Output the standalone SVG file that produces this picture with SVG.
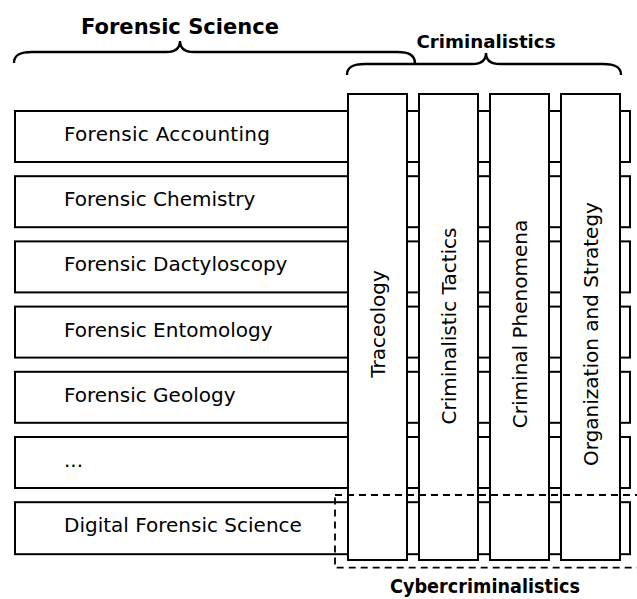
<svg xmlns="http://www.w3.org/2000/svg" width="637" height="599" viewBox="0 0 637 599">
<style>
.box{fill:#fff;stroke:#000;stroke-width:2}
.t{font-family:"DejaVu Sans",sans-serif;font-size:20px;fill:#000}
.b{font-family:"DejaVu Sans",sans-serif;font-weight:bold;fill:#000}
.brace{fill:none;stroke:#000;stroke-width:2.4}
.dash{fill:none;stroke:#000;stroke-width:1.8;stroke-dasharray:7 5}
</style>
<rect width="637" height="599" fill="#fff"/>
<g id="rows">
<g id="row-accounting"><rect class="box" x="15" y="111" width="615" height="51"/><text class="t" x="64" y="141" textLength="206" lengthAdjust="spacing">Forensic Accounting</text></g>
<g id="row-chemistry"><rect class="box" x="15" y="176.2" width="615" height="51"/><text class="t" x="64" y="206.2">Forensic Chemistry</text></g>
<g id="row-dactyloscopy"><rect class="box" x="15" y="241.4" width="615" height="51"/><text class="t" x="64" y="271.4">Forensic Dactyloscopy</text></g>
<g id="row-entomology"><rect class="box" x="15" y="306.6" width="615" height="51"/><text class="t" x="64" y="336.6">Forensic Entomology</text></g>
<g id="row-geology"><rect class="box" x="15" y="371.8" width="615" height="51"/><text class="t" x="64" y="401.8">Forensic Geology</text></g>
<g id="row-more"><rect class="box" x="15" y="437" width="615" height="51"/><text class="t" x="64" y="467">...</text></g>
<g id="row-digital"><rect class="box" x="15" y="502.2" width="615" height="52"/><text class="t" x="64" y="532.2">Digital Forensic Science</text></g>
</g>
<g id="columns">
<g id="col-traceology"><rect class="box" x="348" y="94" width="59" height="466"/><text class="t" text-anchor="middle" transform="translate(384.5,324) rotate(-90)">Traceology</text></g>
<g id="col-tactics"><rect class="box" x="419" y="94" width="59" height="466"/><text class="t" text-anchor="middle" transform="translate(455.5,326) rotate(-90)">Criminalistic Tactics</text></g>
<g id="col-phenomena"><rect class="box" x="490" y="94" width="59" height="466"/><text class="t" text-anchor="middle" transform="translate(526.5,324) rotate(-90)">Criminal Phenomena</text></g>
<g id="col-strategy"><rect class="box" x="561" y="94" width="59" height="466"/><text class="t" text-anchor="middle" transform="translate(597.5,334) rotate(-90)">Organization and Strategy</text></g>
</g>
<g id="connectors">
<path class="brace" d="M14,63 C14,55 20,52 32,52 L166,52 C175,52 180,49 180,41 C180,49 185,52 194,52 L397,52 C409,52 415,55 415,64"/>
<path class="brace" d="M347,75 C347,67 353,64 365,64 L472,64 C481,64 486,61 486,53 C486,61 491,64 500,64 L603,64 C615,64 621,67 621,75"/>
</g>
<g id="forensic-science"><text class="b" x="180" y="34" font-size="21" text-anchor="middle" textLength="198" lengthAdjust="spacingAndGlyphs">Forensic Science</text></g>
<g id="criminalistics"><text class="b" x="486" y="47.5" font-size="18.5" text-anchor="middle" textLength="139" lengthAdjust="spacingAndGlyphs">Criminalistics</text></g>
<g id="cybercriminalistics">
<rect class="dash" x="335" y="495" width="310" height="72.7"/>
<text class="b" x="485" y="593" font-size="19" text-anchor="middle" textLength="190" lengthAdjust="spacingAndGlyphs">Cybercriminalistics</text>
</g>
</svg>
